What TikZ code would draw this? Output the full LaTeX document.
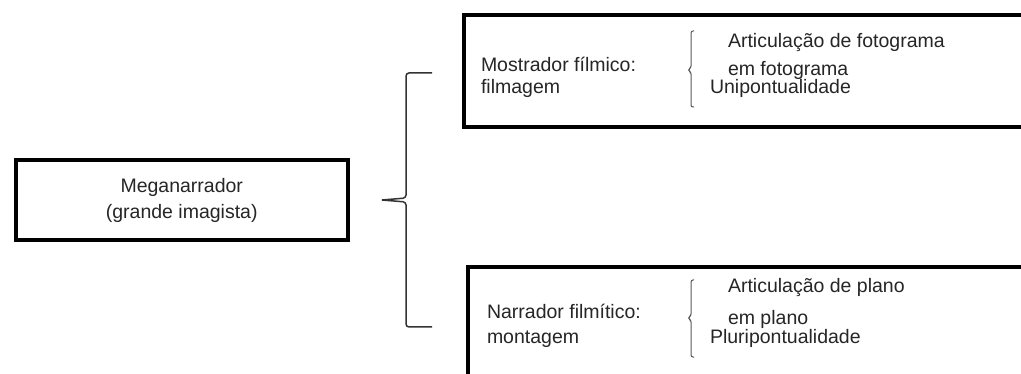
\documentclass[tikz,border=0pt]{standalone}
\usepackage{fontspec}
\setmainfont{Liberation Sans}
\newcommand\myfs{\fontsize{19.5}{26}\selectfont}
\begin{document}
\begin{tikzpicture}[x=1pt,y=-1pt,
  boxstyle/.style={draw=black, line width=4pt, inner sep=0pt, outer sep=0pt},
  lbl/.style={anchor=base west, inner sep=0pt, outer sep=0pt, font=\myfs, text=black!85},
  bigbrace/.style={draw=black!80, line width=1.5pt, rounded corners=3pt},
  smallbrace/.style={draw=black!65, line width=1pt, rounded corners=2pt}]
\clip (0,0) rectangle (1021,374);
\fill[white] (0,0) rectangle (1021,374);
% left box
\node[boxstyle, minimum width=332.5pt, minimum height=80pt, align=center, font=\myfs, text=black!85]
  (meg) at (181.75,200.5) {Meganarrador\\(grande imagista)};
% right boxes
\node[boxstyle, minimum width=571pt, minimum height=112pt] (most) at (749.5,71.5) {};
\node[boxstyle, minimum width=567pt, minimum height=135pt] (narr) at (751.5,335) {};
% big brace
\coordinate (bstub) at (382,200);
\coordinate (btop) at (432,73);
\coordinate (bbot) at (432,327);
\draw[bigbrace] (btop) -- (406,73) -- (406,198) -- (bstub);
\draw[bigbrace] (bstub) -- (406,202) -- (406,327) -- (bbot);
% texts in top box
\node[lbl] (m1) at (481,71.7) {Mostrador fílmico:};
\node[lbl] (m2) at (481,93.3) {filmagem};
\node[lbl] (a1) at (728,47.7) {Articulação de fotograma};
\node[lbl] (a2) at (728,75.5) {em fotograma};
\node[lbl] (a3) at (710,93.3) {Unipontualidade};
\draw[smallbrace] (694,31) -- (691,31) -- (691,68) -- (688,70) -- (691,72) -- (691,107) -- (694,107);
% texts in bottom box
\node[lbl] (n1) at (487,318.3) {Narrador filmítico:};
\node[lbl] (n2) at (487,344) {montagem};
\node[lbl] (p1) at (728,292.7) {Articulação de plano};
\node[lbl] (p2) at (728,325) {em plano};
\node[lbl] (p3) at (710,344) {Pluripontualidade};
\draw[smallbrace] (694,280) -- (691,280) -- (691,316) -- (688,318) -- (691,320) -- (691,357) -- (694,357);
\end{tikzpicture}
\end{document}
